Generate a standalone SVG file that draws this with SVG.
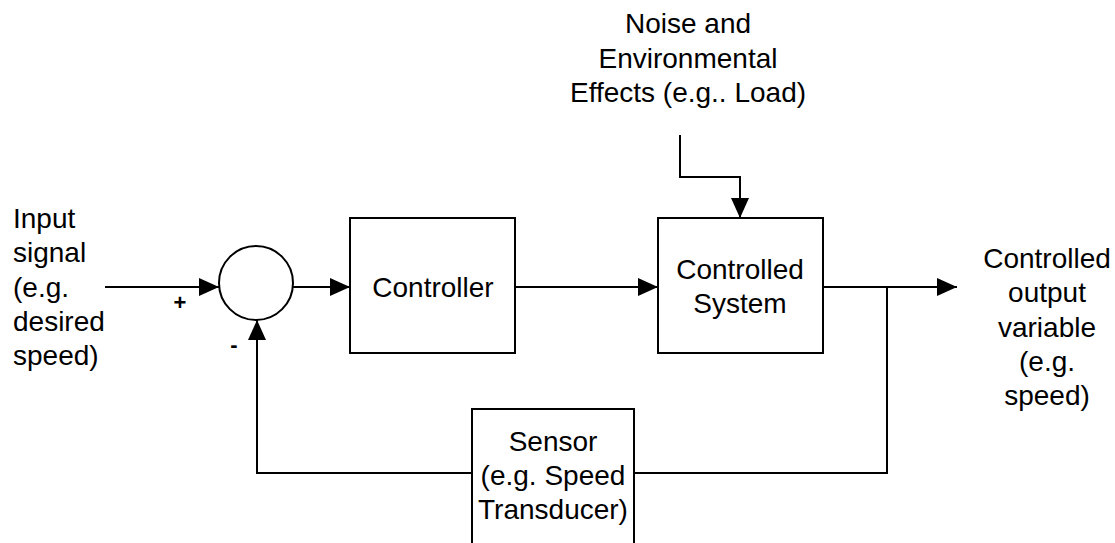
<svg xmlns="http://www.w3.org/2000/svg" width="1115" height="543" viewBox="0 0 1115 543">
<style>
.box{fill:#fff;stroke:#000;stroke-width:2}
.ln{fill:none;stroke:#000;stroke-width:2}
.t{font-family:"Liberation Sans",Arial,sans-serif;font-size:28px;fill:#000}
.c{text-anchor:middle}
.s{font-family:"Liberation Sans",Arial,sans-serif;font-size:22px;font-weight:bold;fill:#000}
</style>
<defs>
<marker id="ah" markerUnits="userSpaceOnUse" markerWidth="20" markerHeight="18" refX="20" refY="9" orient="auto">
<path d="M0,0 L20,9 L0,18 z" fill="#000"/>
</marker>
</defs>
<g id="connectors">
<line class="ln" x1="105" y1="287" x2="219" y2="287" marker-end="url(#ah)"/>
<line class="ln" x1="293" y1="287" x2="350" y2="287" marker-end="url(#ah)"/>
<line class="ln" x1="515" y1="287" x2="658" y2="287" marker-end="url(#ah)"/>
<line class="ln" x1="823" y1="287" x2="957" y2="287" marker-end="url(#ah)"/>
<polyline class="ln" points="680,135 680,177 740,177 740,218" marker-end="url(#ah)"/>
<polyline class="ln" points="887,287 887,473 634,473"/>
<polyline class="ln" points="472,473 257,473 257,320" marker-end="url(#ah)"/>
</g>
<g id="sum">
<ellipse class="box" cx="256" cy="283" rx="37" ry="37"/>
<text class="s" x="180" y="310" text-anchor="middle">+</text>
<text class="s" x="234" y="352" text-anchor="middle">-</text>
</g>
<g id="controller">
<rect class="box" x="350" y="218" width="165" height="135"/>
<text class="t c" x="433" y="297">Controller</text>
</g>
<g id="controlled-system">
<rect class="box" x="658" y="218" width="165" height="135"/>
<text class="t c" x="740" y="279">Controlled</text>
<text class="t c" x="740" y="313">System</text>
</g>
<g id="sensor">
<rect class="box" x="472" y="409" width="162" height="140"/>
<text class="t c" x="553" y="451">Sensor</text>
<text class="t c" x="553" y="485">(e.g. Speed</text>
<text class="t c" x="553" y="519">Transducer)</text>
</g>
<g id="input">
<text class="t" x="13" y="228">Input</text>
<text class="t" x="13" y="262">signal</text>
<text class="t" x="13" y="297">(e.g.</text>
<text class="t" x="13" y="331">desired</text>
<text class="t" x="13" y="365">speed)</text>
</g>
<g id="output">
<text class="t c" x="1047" y="268">Controlled</text>
<text class="t c" x="1047" y="302">output</text>
<text class="t c" x="1047" y="337">variable</text>
<text class="t c" x="1047" y="371">(e.g.</text>
<text class="t c" x="1047" y="405">speed)</text>
</g>
<g id="noise">
<text class="t c" x="688" y="33">Noise and</text>
<text class="t c" x="688" y="68">Environmental</text>
<text class="t c" x="688" y="102">Effects (e.g.. Load)</text>
</g>
</svg>
